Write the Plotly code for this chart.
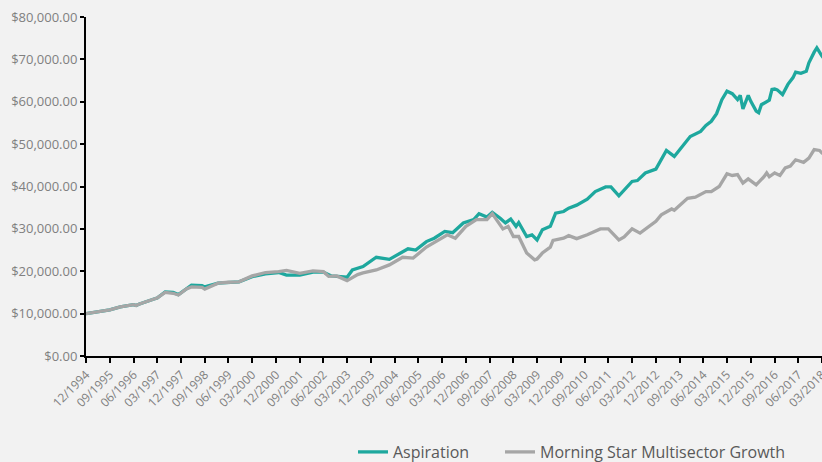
import pandas as pd
import plotly.graph_objects as go

# ---- data ----
aspiration_dates = [
    "1994-12", "1995-05", "1995-09", "1996-01", "1996-06", "1996-07", "1996-08", "1997-02",
    "1997-03", "1997-06", "1997-09", "1997-11", "1998-02", "1998-04", "1998-08", "1998-09",
    "1999-02", "1999-06", "1999-10", "2000-03", "2000-08", "2001-01", "2001-04", "2001-09",
    "2002-02", "2002-06", "2002-08", "2002-09", "2003-03", "2003-05", "2003-09", "2004-02",
    "2004-07", "2004-10", "2005-02", "2005-05", "2005-09", "2005-12", "2006-04", "2006-07",
    "2006-11", "2007-03", "2007-05", "2007-08", "2007-10", "2008-01", "2008-03", "2008-05",
    "2008-07", "2008-08", "2008-11", "2009-01", "2009-03", "2009-05", "2009-08", "2009-10",
    "2010-01", "2010-03", "2010-06", "2010-10", "2011-01", "2011-05", "2011-07", "2011-10",
    "2011-12", "2012-03", "2012-05", "2012-08", "2012-12", "2013-02", "2013-04", "2013-07",
    "2013-08", "2014-01", "2014-05", "2014-07", "2014-09", "2014-11", "2015-01", "2015-03",
    "2015-05", "2015-07", "2015-08", "2015-09", "2015-11", "2015-12", "2016-02", "2016-03",
    "2016-04", "2016-07", "2016-08", "2016-09", "2016-10", "2016-12", "2017-02", "2017-04",
    "2017-05", "2017-07", "2017-09", "2017-10", "2017-12", "2018-01", "2018-03", "2018-04",
]
aspiration_values = [
    10000, 10500, 10900, 11600, 12100, 11900, 12200, 13500,
    13700, 15100, 15000, 14500, 15900, 16700, 16600, 16300,
    17200, 17400, 17500, 18700, 19400, 19700, 19100, 19100,
    19800, 19800, 19300, 18900, 18600, 20300, 21100, 23300,
    22800, 23900, 25300, 25000, 27000, 27800, 29400, 29100,
    31400, 32200, 33600, 32800, 33900, 32500, 31400, 32300,
    30600, 31500, 28200, 28600, 27400, 29800, 30600, 33700,
    34100, 34900, 35600, 37000, 38800, 39900, 39900, 37800,
    39200, 41200, 41400, 43200, 44100, 46200, 48500, 47100,
    47900, 51800, 53000, 54400, 55400, 57200, 60500, 62500,
    61900, 60500, 61500, 58300, 61500, 60100, 57800, 57400,
    59300, 60400, 62900, 63000, 62800, 61700, 64100, 65700,
    67000, 66700, 67200, 69200, 71700, 72700, 70800, 70000,
]

morningstar_dates = [
    "1994-12", "1995-05", "1995-09", "1996-01", "1996-06", "1996-07", "1996-08", "1997-02",
    "1997-03", "1997-06", "1997-09", "1997-11", "1998-02", "1998-04", "1998-08", "1998-09",
    "1999-02", "1999-06", "1999-10", "2000-03", "2000-08", "2001-01", "2001-04", "2001-09",
    "2002-02", "2002-06", "2002-08", "2002-11", "2003-03", "2003-07", "2003-09", "2004-02",
    "2004-07", "2004-12", "2005-04", "2005-09", "2006-02", "2006-05", "2006-08", "2006-12",
    "2007-04", "2007-08", "2007-10", "2008-02", "2008-04", "2008-06", "2008-08", "2008-11",
    "2009-02", "2009-03", "2009-05", "2009-08", "2009-09", "2010-01", "2010-03", "2010-06",
    "2010-10", "2011-03", "2011-06", "2011-10", "2011-12", "2012-03", "2012-06", "2012-10",
    "2012-12", "2013-02", "2013-06", "2013-07", "2013-09", "2013-12", "2014-03", "2014-07",
    "2014-09", "2014-12", "2015-03", "2015-05", "2015-07", "2015-09", "2015-11", "2016-02",
    "2016-05", "2016-06", "2016-07", "2016-09", "2016-11", "2017-01", "2017-03", "2017-05",
    "2017-08", "2017-10", "2017-12", "2018-02", "2018-03", "2018-04",
]
morningstar_values = [
    10000, 10500, 10900, 11600, 12100, 11900, 12200, 13500,
    13700, 15000, 14800, 14400, 15800, 16300, 16200, 15800,
    17200, 17400, 17500, 18900, 19700, 19900, 20200, 19500,
    20100, 19900, 18800, 18900, 17800, 19200, 19600, 20300,
    21500, 23300, 23100, 25700, 27400, 28600, 27800, 30600,
    32200, 32200, 33600, 30000, 30600, 28200, 28200, 24300,
    22700, 22900, 24300, 25700, 27300, 27800, 28400, 27700,
    28600, 30000, 30000, 27400, 28100, 30000, 29000, 31000,
    31800, 33300, 34700, 34400, 35500, 37200, 37500, 38800,
    38800, 40000, 43000, 42600, 42800, 40800, 41800, 40400,
    42300, 43200, 42300, 43200, 42600, 44400, 44800, 46300,
    45700, 46700, 48700, 48500, 47900, 47500,
]

series_names = ["Aspiration", "Morning Star Multisector Growth"]
series_colors = ["#1ea89e", "#a6a6a6"]

tick_dates = pd.date_range("1994-12-01", "2018-03-01", freq="9MS")
tick_labels = [d.strftime("%m/%Y") for d in tick_dates]

FONT = "Open Sans"
TICK_COLOR = "#808080"
LEGEND_FONT = dict(family=FONT, size=16, color="#595959")

fig = go.Figure()
fig.add_trace(go.Scatter(
    x=pd.to_datetime(aspiration_dates), y=aspiration_values, mode="lines",
    name=series_names[0], line=dict(color=series_colors[0], width=3.3), legend="legend",
))
fig.add_trace(go.Scatter(
    x=pd.to_datetime(morningstar_dates), y=morningstar_values, mode="lines",
    name=series_names[1], line=dict(color=series_colors[1], width=3.3), legend="legend2",
))

fig.update_layout(
    width=822, height=462,
    margin=dict(l=86, r=0, t=17, b=106),
    paper_bgcolor="#f2f2f2", plot_bgcolor="#f2f2f2",
    font=dict(family=FONT, color=TICK_COLOR, size=12),
    showlegend=True,
    legend=dict(
        orientation="h", xref="container", yref="container",
        x=353 / 822, y=1 - 452 / 462, xanchor="left", yanchor="middle",
        font=LEGEND_FONT, bgcolor="rgba(0,0,0,0)",
    ),
    legend2=dict(
        orientation="h", xref="container", yref="container",
        x=500 / 822, y=1 - 452 / 462, xanchor="left", yanchor="middle",
        font=LEGEND_FONT, bgcolor="rgba(0,0,0,0)",
    ),
    xaxis=dict(
        type="date", range=["1994-12-01", "2018-03-01 06:00"],
        tickvals=tick_dates, ticktext=tick_labels, tickangle=-45,
        tickfont=dict(family=FONT, size=12, color=TICK_COLOR),
        ticklabeloverflow="allow",
        showgrid=False, zeroline=False,
        showline=True, linecolor="#000000", linewidth=2,
        ticks="outside", ticklen=5, tickwidth=1.5, tickcolor="#000000",
        automargin=False,
    ),
    yaxis=dict(
        range=[0, 80000], tickvals=[0, 10000, 20000, 30000, 40000, 50000, 60000, 70000, 80000],
        tickformat="$,.2f",
        tickfont=dict(family=FONT, size=13, color=TICK_COLOR),
        showgrid=False, zeroline=False,
        showline=True, linecolor="#000000", linewidth=2,
        ticks="outside", ticklen=4, tickwidth=1.5, tickcolor="#000000",
        automargin=False,
    ),
)

fig.write_html(
    "out.html",
    config={"displayModeBar": False},
    post_script="document.body.style.margin='0px';",
)
